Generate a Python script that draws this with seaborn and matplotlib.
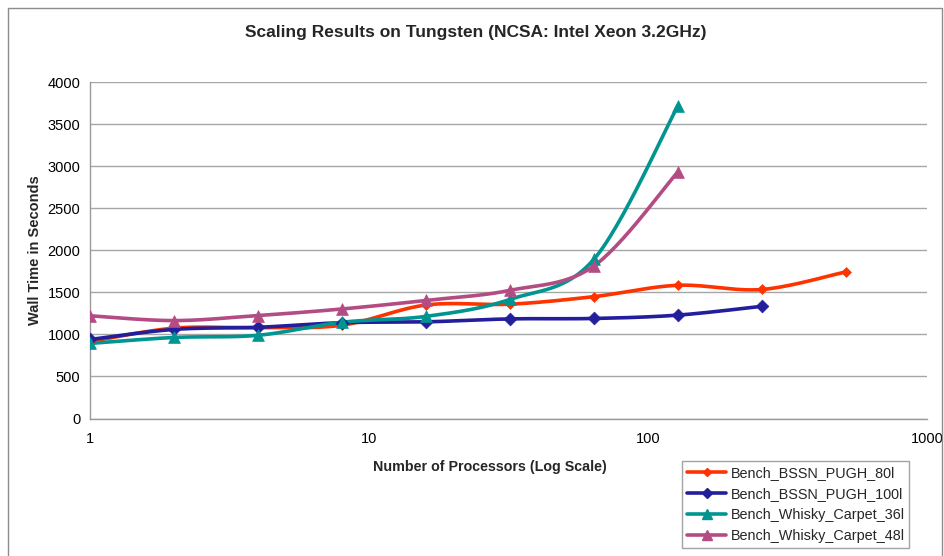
import numpy as np
import pandas as pd
import matplotlib
matplotlib.use("Agg")
import matplotlib.pyplot as plt
from matplotlib.lines import Line2D
from matplotlib.patches import Rectangle
import seaborn as sns

# Benchmark wall times (seconds) versus processor count
procs = [1, 2, 4, 8, 16, 32, 64, 128, 256, 512]
bssn_80 = [915, 1075, 1080, 1110, 1350, 1360, 1450, 1585, 1535, 1745]
bssn_100 = [940, 1060, 1085, 1140, 1150, 1185, 1190, 1230, 1335]
whisky_36 = [893, 964, 990, 1145, 1215, 1417, 1895, 3720]
whisky_48 = [1222, 1165, 1225, 1303, 1405, 1525, 1815, 2935]

series_names = ["Bench_BSSN_PUGH_80l", "Bench_BSSN_PUGH_100l",
                "Bench_Whisky_Carpet_36l", "Bench_Whisky_Carpet_48l"]
series_values = [bssn_80, bssn_100, whisky_36, whisky_48]
colors = ["#FF3300", "#231E9B", "#009590", "#B44C84"]
markers = ["D", "D", "^", "^"]
msizes = [5, 6.5, 8.5, 8.5]

title = "Scaling Results on Tungsten (NCSA: Intel Xeon 3.2GHz)"
xlabel = "Number of Processors (Log Scale)"
ylabel = "Wall Time in Seconds"
yticks = [0, 500, 1000, 1500, 2000, 2500, 3000, 3500, 4000]
xticks = [1, 10, 100, 1000]


def smooth_curve(xs, ys, n=30):
    """Catmull-Rom curve through the points, built in display-like units
    (log x) so the bends look like a spreadsheet 'smoothed line'."""
    u = np.log10(np.asarray(xs, float)) * 279.0
    v = np.asarray(ys, float) * 0.084
    pts = np.column_stack([u, v])
    p = np.vstack([pts[0], pts, pts[-1]])
    out = []
    for i in range(1, len(p) - 2):
        p0, p1, p2, p3 = p[i - 1], p[i], p[i + 1], p[i + 2]
        t = np.linspace(0, 1, n, endpoint=(i == len(p) - 3))[:, None]
        seg = 0.5 * ((2 * p1) + (-p0 + p2) * t
                     + (2 * p0 - 5 * p1 + 4 * p2 - p3) * t ** 2
                     + (-p0 + 3 * p1 - 3 * p2 + p3) * t ** 3)
        out.append(seg)
    out = np.vstack(out)
    return 10 ** (out[:, 0] / 279.0), out[:, 1] / 0.084


sns.set_theme(style="white")
plt.rcParams["font.family"] = ["Liberation Sans", "DejaVu Sans"]

fig = plt.figure(figsize=(9.45, 5.56), dpi=100)
ax = fig.add_axes([90 / 945, 1 - 418.5 / 556, (927 - 90) / 945, (418.5 - 82.3) / 556])

handles = []
for name, vals, c, m, ms in zip(series_names, series_values, colors, markers, msizes):
    xs = procs[:len(vals)]
    sx, sy = smooth_curve(xs, vals)
    curve = pd.DataFrame({"x": sx, "y": sy})
    sns.lineplot(data=curve, x="x", y="y", ax=ax, color=c, lw=2.6,
                 sort=False, estimator=None, zorder=3)
    pts = pd.DataFrame({"x": xs, "y": vals})
    sns.scatterplot(data=pts, x="x", y="y", ax=ax, color=c, marker=m,
                    s=ms ** 2, edgecolor=c, linewidth=0.5, zorder=4)
    handles.append(Line2D([], [], color=c, lw=2.6, marker=m, markersize=ms * 0.85,
                          markeredgecolor=c, label=name))

ax.set_xscale("log")
ax.set_xlim(1, 1000)
ax.set_ylim(0, 4000)
ax.set_xticks(xticks)
ax.set_xticklabels([str(t) for t in xticks])
ax.xaxis.set_minor_locator(matplotlib.ticker.NullLocator())
ax.set_yticks(yticks)
ax.set_yticklabels([str(t) for t in yticks])
ax.set_xlabel("")
ax.set_ylabel("")

ax.grid(axis="y", color="#A6A6A6", lw=1.0)
ax.grid(axis="x", visible=False)
for side in ["top", "right"]:
    ax.spines[side].set_visible(False)
for side in ["left", "bottom"]:
    ax.spines[side].set_color("#9A9A9A")
    ax.spines[side].set_linewidth(1.0)
ax.tick_params(axis="both", which="major", direction="out", length=4, width=1,
               color="#9A9A9A", labelsize=10.5, labelcolor="black")
ax.tick_params(axis="y", pad=3)
ax.tick_params(axis="x", pad=6)

fig.text(476 / 945, 1 - 33 / 556, title, ha="center", va="center",
         fontsize=12.5, fontweight="bold")
fig.text(490 / 945, 1 - 467 / 556, xlabel, ha="center", va="center",
         fontsize=10.3, fontweight="bold")
fig.text(35 / 945, 1 - 250 / 556, ylabel, ha="center", va="center",
         rotation=90, fontsize=10.5, fontweight="bold")

leg = fig.legend(handles=handles, loc="upper left",
                 bbox_to_anchor=(682 / 945, 1 - 461 / 556),
                 frameon=True, fancybox=False, fontsize=10.4,
                 handlelength=2.7, handletextpad=0.3, labelspacing=0.48,
                 borderpad=0.35, borderaxespad=0.0)
leg.get_frame().set_edgecolor("#8C8C8C")
leg.get_frame().set_linewidth(1.0)

# outer chart border
fig.patches.append(Rectangle((8 / 945, -0.02), (942 - 8) / 945, 1 - 8 / 556 + 0.02,
                             transform=fig.transFigure, fill=False,
                             edgecolor="#8C8C8C", lw=1.0))

fig.savefig("out.png", dpi=100)
